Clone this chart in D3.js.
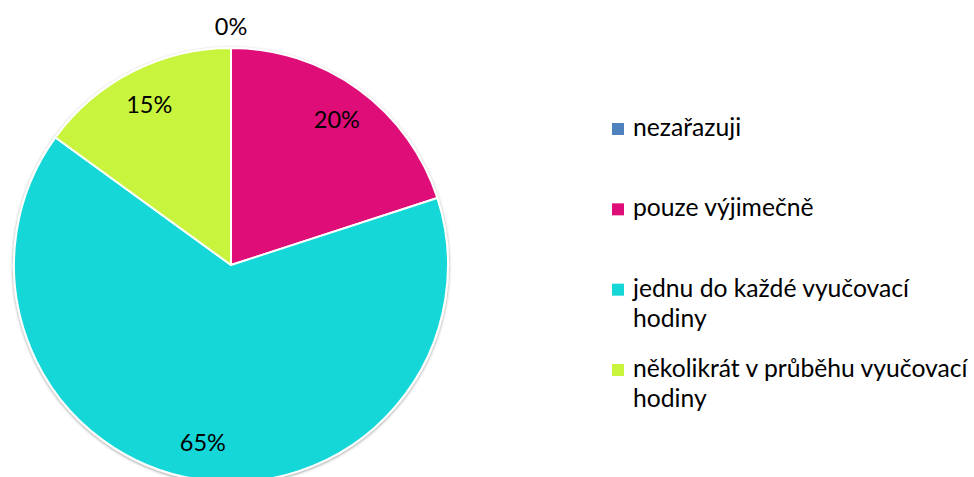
<!DOCTYPE html>
<html>
<head>
<meta charset="utf-8">
<script src="https://cdn.jsdelivr.net/npm/d3@7"></script>
<style>
  html, body { margin: 0; padding: 0; background: #fff; overflow: hidden; }
  svg { display: block; font-family: Lato, "Open Sans", sans-serif; }
</style>
</head>
<body>
<svg id="chart" width="974" height="477"></svg>
<script>
// values (percent)
const categories = ["nezařazuji", "pouze výjimečně", "jednu do každé vyučovací hodiny", "několikrát v průběhu vyučovací hodiny"];
const values = [0, 20, 65, 15];
const legendLines = [["nezařazuji"], ["pouze výjimečně"], ["jednu do každé vyučovací", "hodiny"], ["několikrát v průběhu vyučovací", "hodiny"]];
const colors = ["#4f81bd", "#de0d77", "#16d7d8", "#c9f43c"];

const width = 974, height = 477;
const cx = 231, cy = 265, radius = 217;

const svg = d3.select("#chart");

const defs = svg.append("defs");
const shadow = defs.append("filter").attr("id", "shadow")
  .attr("x", "-10%").attr("y", "-10%").attr("width", "120%").attr("height", "120%");
shadow.append("feDropShadow")
  .attr("dx", 0).attr("dy", 1).attr("stdDeviation", 1.6)
  .attr("flood-color", "#000").attr("flood-opacity", 0.4);

const data = categories.map((c, i) => ({ name: c, value: values[i], color: colors[i] }));

const pie = d3.pie().sort(null).value(d => d.value);
const arcs = pie(data);

const arc = d3.arc().innerRadius(0).outerRadius(radius);
const labelArc = d3.arc().innerRadius(radius * 0.83).outerRadius(radius * 0.83);
const outerLabelArc = d3.arc().innerRadius(radius + 21).outerRadius(radius + 21);

const g = svg.append("g").attr("transform", `translate(${cx},${cy})`);

g.append("g")
  .attr("filter", "url(#shadow)")
  .selectAll("path")
  .data(arcs.filter(d => d.data.value > 0))
  .join("path")
    .attr("d", arc)
    .attr("fill", d => d.data.color)
    .attr("stroke", "#fff")
    .attr("stroke-width", 2)
    .attr("stroke-linejoin", "round");

g.append("g")
  .selectAll("text")
  .data(arcs)
  .join("text")
    .attr("transform", d => `translate(${(d.data.value > 0 ? labelArc : outerLabelArc).centroid(d)})`)
    .attr("text-anchor", "middle")
    .attr("dy", "0.36em")
    .attr("font-size", 23.5)
    .attr("fill", "#000")
    .text(d => d3.format(".0%")(d.data.value / 100));

// legend
const legend = svg.append("g").attr("transform", "translate(612,0)");
const rowY = d3.scalePoint().domain(categories).range([136, 377]);

const item = legend.selectAll("g")
  .data(data)
  .join("g")
    .attr("transform", d => `translate(0,${rowY(d.name)})`);

item.append("rect")
  .attr("x", 0).attr("y", -13)
  .attr("width", 12).attr("height", 12)
  .attr("fill", d => d.color);

item.append("text")
  .attr("font-size", 24.7)
  .attr("fill", "#000")
  .selectAll("tspan")
  .data((d, i) => legendLines[i])
  .join("tspan")
    .attr("x", 21)
    .attr("y", (d, j) => j * 30)
    .text(d => d);
</script>
</body>
</html>
